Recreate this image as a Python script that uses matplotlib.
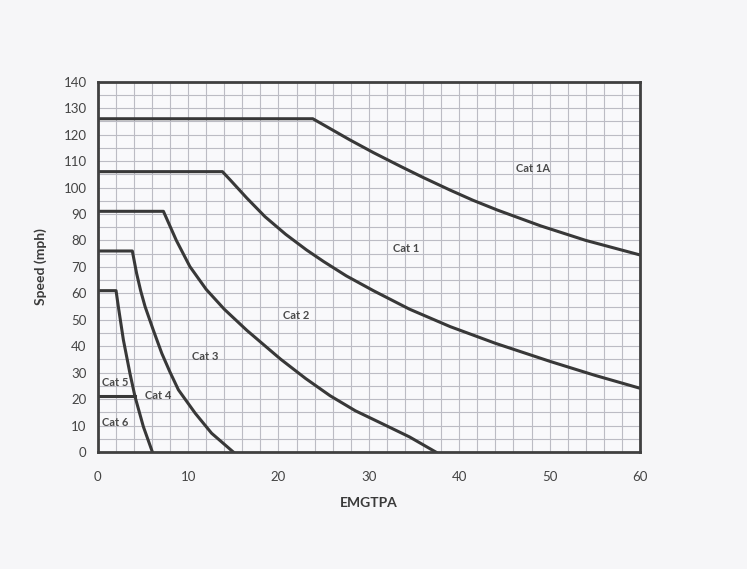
import numpy as np
from matplotlib import pyplot as plt
from matplotlib.ticker import MultipleLocator

plt.rcParams['font.family'] = ['Lato', 'DejaVu Sans']

# Grenzkurven (EMGTPA, Speed)
cat1a_x = [0, 23.8, 27.9, 30.5, 33.5, 36.0, 39.0, 41.5, 44.2, 49.0, 54.0, 60]
cat1a_y = [126, 126, 118, 113.2, 108, 103.8, 99.0, 95.2, 91.5, 85.5, 80.0, 74.5]

cat1_x = [0, 13.8, 14.65, 16.5, 18.5, 20.8, 23.1, 25.0, 27.5, 30.5, 34.5, 39.0, 44.0, 50.1, 55.0, 60]
cat1_y = [106, 106, 102.9, 96.0, 89.0, 82.3, 76.4, 72.0, 66.6, 61.0, 54.0, 47.4, 41.1, 34.2, 29.0, 24.1]

cat2_x = [0, 7.27, 8.7, 10.2, 12.0, 14.0, 16.5, 20.2, 23.0, 25.7, 28.5, 31.3, 34.5, 37.4]
cat2_y = [91, 91, 80.0, 70.1, 61.5, 54.0, 46.0, 35.2, 27.8, 21.3, 15.6, 11.0, 5.7, 0]

cat3_x = [0, 3.83, 4.3, 4.75, 5.24, 6.16, 7.09, 8.0, 8.93, 10.8, 12.6, 15.0]
cat3_y = [76, 76, 67.6, 61.0, 55, 46, 37.3, 30.2, 23.5, 14.6, 7.1, 0]

cat4_x = [0, 2.03, 2.28, 2.84, 3.58, 4.13, 5.05, 6.05]
cat4_y = [61, 61, 55, 42.4, 29.5, 20.9, 9.6, 0]

cat56_x = [0, 4.13]
cat56_y = [21, 21]

labels = ["Cat 1A", "Cat 1", "Cat 2", "Cat 3", "Cat 4", "Cat 5", "Cat 6"]
label_x = [46.3, 32.7, 20.5, 10.4, 5.2, 0.45, 0.5]
label_y = [107, 76.8, 51.8, 36.1, 21.3, 26.4, 11.1]

bg = '#f6f6f8'
line_col = '#383838'

fig = plt.figure(figsize=(7.47, 5.69), dpi=100, facecolor=bg)
ax = fig.add_axes([0.1308, 0.2056, 0.726, 0.6508])
ax.set_facecolor('#f9f9fb')

for xs, ys in [(cat1a_x, cat1a_y), (cat1_x, cat1_y), (cat2_x, cat2_y),
               (cat3_x, cat3_y), (cat4_x, cat4_y), (cat56_x, cat56_y)]:
    ax.plot(xs, ys, color=line_col, lw=2.2, solid_joinstyle='round', zorder=3)

for txt, tx, ty in zip(labels, label_x, label_y):
    ax.text(tx, ty, txt, fontsize=8, fontweight='bold', color='#4a4a4a',
            ha='left', va='center', zorder=4)

ax.set_xlim(0, 60)
ax.set_ylim(0, 140)
ax.xaxis.set_major_locator(MultipleLocator(10))
ax.yaxis.set_major_locator(MultipleLocator(10))
ax.xaxis.set_minor_locator(MultipleLocator(2))
ax.yaxis.set_minor_locator(MultipleLocator(5))
ax.grid(which='both', color='#bcbcc4', lw=0.8, zorder=1)
ax.set_axisbelow(True)
ax.tick_params(which='both', length=0, labelsize=9.5, labelcolor='#444444')
ax.tick_params(axis='x', pad=14)
ax.tick_params(axis='y', pad=8)

for s in ax.spines.values():
    s.set_color('#404040')
    s.set_linewidth(2)
    s.set_zorder(5)

ax.set_xlabel("EMGTPA", fontsize=10, fontweight='bold', color='#3a3a3a', labelpad=10)
ax.set_ylabel("Speed (mph)", fontsize=10, fontweight='bold', color='#3a3a3a', labelpad=12)

plt.savefig("out.png", dpi=100, facecolor=bg)
